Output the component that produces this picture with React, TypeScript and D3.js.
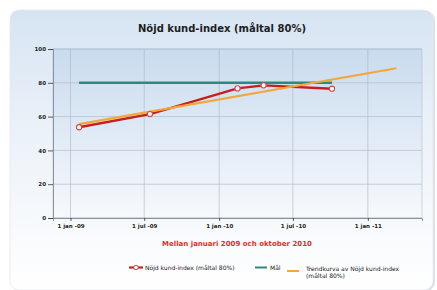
import React, { useEffect, useRef } from "react";
import * as d3 from "d3";

// Nöjd kund-index, mätpunkter
const dates = ["2009-01-22", "2009-07-15", "2010-02-15", "2010-04-20", "2010-10-05"];
const nki = [53.7, 61.5, 76.7, 78.5, 76.5];
const goal = [80, 80, 80, 80, 80];
// trendkurva, start och slut
const trendDates = ["2009-01-22", "2011-03-12"];
const trendValues = [55.5, 88.6];

const tickDates = ["2009-01-01", "2009-07-01", "2010-01-01", "2010-07-01", "2011-01-01"];
const tickLabels = ["1 jan -09", "1 jul -09", "1 jan -10", "1 jul -10", "1 jan -11"];
const yTicks = [0, 20, 40, 60, 80, 100];

const W = 437;
const H = 290;
const font = "'DejaVu Sans', Verdana, sans-serif";

const App = () => {
  const svgRef = useRef<SVGSVGElement | null>(null);

  useEffect(() => {
    const svg = d3.select(svgRef.current);
    svg.selectAll("*").remove();

    const parse = d3.timeParse("%Y-%m-%d");
    const left = 53, right = 422, top = 49, bottom = 218;

    const x = d3
      .scaleTime()
      .domain([parse("2008-11-19")!, parse("2011-05-14")!])
      .range([left, right]);
    const y = d3.scaleLinear().domain([0, 100]).range([bottom, top]);

    const defs = svg.append("defs");
    const cardGrad = defs.append("linearGradient").attr("id", "cardGrad").attr("x1", 0).attr("y1", 0).attr("x2", 0).attr("y2", 1);
    cardGrad.append("stop").attr("offset", "0%").attr("stop-color", "#d6e4f2");
    cardGrad.append("stop").attr("offset", "45%").attr("stop-color", "#ecf2f9");
    cardGrad.append("stop").attr("offset", "100%").attr("stop-color", "#ffffff");
    const plotGrad = defs.append("linearGradient").attr("id", "plotGrad").attr("x1", 0).attr("y1", 0).attr("x2", 0).attr("y2", 1);
    plotGrad.append("stop").attr("offset", "0%").attr("stop-color", "#c9dbef");
    plotGrad.append("stop").attr("offset", "100%").attr("stop-color", "#f7f9fc");

    // card
    svg.append("rect").attr("x", 0).attr("y", 0).attr("width", W).attr("height", H).attr("fill", "#ffffff");
    svg.append("rect")
      .attr("x", 11).attr("y", 11).attr("width", 424).attr("height", 280).attr("rx", 9)
      .attr("fill", "#dde2e8");
    svg.append("rect")
      .attr("x", 10).attr("y", 10).attr("width", 423).attr("height", 280).attr("rx", 9)
      .attr("fill", "url(#cardGrad)").attr("stroke", "#e4e9ef").attr("stroke-width", 0.8);

    // title
    svg.append("text")
      .attr("x", 222).attr("y", 32).attr("text-anchor", "middle")
      .attr("font-family", font).attr("font-size", 10).attr("font-weight", "bold").attr("fill", "#1e1e1e")
      .text("Nöjd kund-index (måltal 80%)");

    // plot area
    svg.append("rect")
      .attr("x", left).attr("y", top).attr("width", right - left).attr("height", bottom - top)
      .attr("fill", "url(#plotGrad)").attr("stroke", "#b3bfcc").attr("stroke-width", 0.6);

    const tickD = tickDates.map((d) => parse(d)!);

    // grid
    svg.append("g").selectAll("line").data(yTicks).enter().append("line")
      .attr("x1", left).attr("x2", right).attr("y1", (d) => y(d)).attr("y2", (d) => y(d))
      .attr("stroke", "#aab6c4").attr("stroke-width", 0.6);
    svg.append("g").selectAll("line").data(tickD).enter().append("line")
      .attr("x1", (d) => x(d)).attr("x2", (d) => x(d)).attr("y1", top).attr("y2", bottom)
      .attr("stroke", "#aab6c4").attr("stroke-width", 0.6);

    // axes
    const yAxis = svg.append("g")
      .attr("transform", `translate(${left},0)`)
      .call(d3.axisLeft(y).tickValues(yTicks).tickSize(5).tickPadding(2));
    const xAxis = svg.append("g")
      .attr("transform", `translate(0,${bottom})`)
      .call(
        d3.axisBottom(x).tickValues(tickD).tickSize(3).tickPadding(3)
          .tickFormat((_, i) => tickLabels[i])
      );
    [yAxis, xAxis].forEach((a) => {
      a.select(".domain").attr("stroke", "#77818c").attr("stroke-width", 0.8);
      a.selectAll(".tick line").attr("stroke", "#333").attr("stroke-width", 0.8);
      a.selectAll("text")
        .attr("font-family", font).attr("font-size", 5.5).attr("font-weight", "bold").attr("fill", "#222");
    });

    const pts = dates.map((d, i) => ({ date: parse(d)!, v: nki[i], g: goal[i] }));

    // mål
    svg.append("path")
      .datum(pts)
      .attr("fill", "none").attr("stroke", "#2a8a7c").attr("stroke-width", 2.4)
      .attr("d", d3.line<any>().x((d) => x(d.date)).y((d) => y(d.g)));

    // nki line
    svg.append("path")
      .datum(pts)
      .attr("fill", "none").attr("stroke", "#c81e1e").attr("stroke-width", 2.4)
      .attr("stroke-linejoin", "round")
      .attr("d", d3.line<any>().x((d) => x(d.date)).y((d) => y(d.v)));

    // trend
    const trend = trendDates.map((d, i) => ({ date: parse(d)!, v: trendValues[i] }));
    svg.append("path")
      .datum(trend)
      .attr("fill", "none").attr("stroke", "#f2a838").attr("stroke-width", 2.2)
      .attr("d", d3.line<any>().x((d) => x(d.date)).y((d) => y(d.v)));

    // markers
    svg.append("g").selectAll("circle").data(pts).enter().append("circle")
      .attr("cx", (d) => x(d.date)).attr("cy", (d) => y(d.v)).attr("r", 2.6)
      .attr("fill", "#ffffff").attr("stroke", "#d04a4a").attr("stroke-width", 1.1);

    // subtitle
    svg.append("text")
      .attr("x", 237).attr("y", 246).attr("text-anchor", "middle")
      .attr("font-family", font).attr("font-size", 7).attr("font-weight", "bold").attr("fill", "#e0302c")
      .text("Mellan januari 2009 och oktober 2010");

    // legend
    const lg = svg.append("g").attr("font-family", font).attr("font-size", 6).attr("fill", "#1a1a1a");
    lg.append("line").attr("x1", 129).attr("x2", 143).attr("y1", 267.5).attr("y2", 267.5)
      .attr("stroke", "#c81e1e").attr("stroke-width", 2.2);
    lg.append("circle").attr("cx", 136).attr("cy", 267.5).attr("r", 2.2)
      .attr("fill", "#fff").attr("stroke", "#d04a4a").attr("stroke-width", 1);
    lg.append("text").attr("x", 145).attr("y", 269.5).text("Nöjd kund-index (måltal 80%)");
    lg.append("line").attr("x1", 255).attr("x2", 267).attr("y1", 267.5).attr("y2", 267.5)
      .attr("stroke", "#2a8a7c").attr("stroke-width", 2);
    lg.append("text").attr("x", 270).attr("y", 269.5).text("Mål");
    lg.append("line").attr("x1", 287).attr("x2", 299).attr("y1", 271).attr("y2", 271)
      .attr("stroke", "#f2a838").attr("stroke-width", 2);
    lg.append("text").attr("x", 306).attr("y", 271).text("Trendkurva av Nöjd kund-index");
    lg.append("text").attr("x", 306).attr("y", 278).text("(måltal 80%)");
  }, []);

  return (
    <div style={{ position: "fixed", left: 0, top: 0 }}>
      <svg ref={svgRef} width={W} height={H} style={{ display: "block" }} />
    </div>
  );
};

export default App;
